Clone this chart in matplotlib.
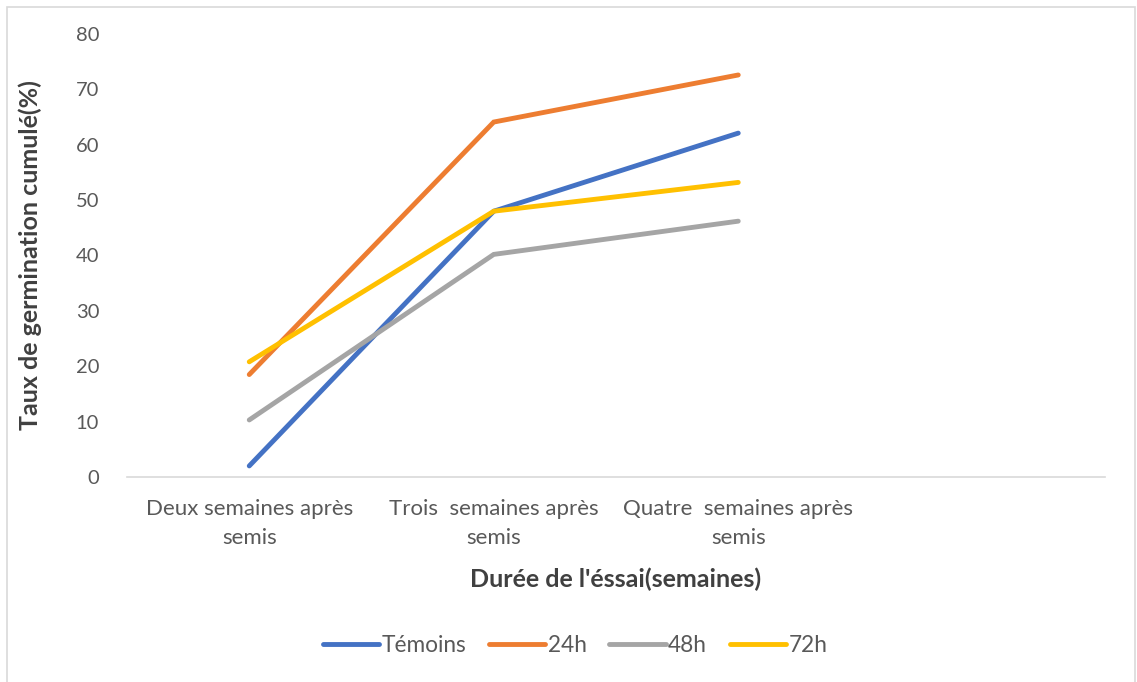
import matplotlib
matplotlib.use("Agg")
import matplotlib.pyplot as plt
from matplotlib.patches import Rectangle

plt.rcParams['font.family'] = ['Lato', 'DejaVu Sans']

categories = ["Deux semaines après\nsemis", "Trois  semaines après\nsemis",
              "Quatre  semaines après\nsemis", ""]
temoins = [2.0, 48.0, 62.1]
h24 = [18.5, 64.1, 72.6]
h48 = [10.3, 40.2, 46.2]
h72 = [20.8, 48.0, 53.2]

series = [("Témoins", temoins, "#4472c4"),
          ("24h", h24, "#ed7d31"),
          ("48h", h48, "#a5a5a5"),
          ("72h", h72, "#ffc000")]

fig = plt.figure(figsize=(11.37, 6.82), dpi=100)
ax = fig.add_axes([127/1137, 1 - 477/682, (1105-127)/1137, (477-34)/682])

x = list(range(len(categories)))
for name, vals, col in series:
    ax.plot(x[:len(vals)], vals, color=col, lw=3.5, solid_capstyle='round',
            solid_joinstyle='miter', label=name)

ax.set_xlim(-0.5, len(categories) - 0.5)
ax.set_ylim(0, 80)
ax.set_yticks(range(0, 81, 10))
ax.set_xticks(x)
ax.set_xticklabels(categories, fontsize=16, color="#595959", linespacing=1.55)
ax.tick_params(axis='y', labelsize=14.5, labelcolor="#595959", length=0, pad=20)
ax.tick_params(axis='x', length=0, pad=16)

for s in ['top', 'right', 'left']:
    ax.spines[s].set_visible(False)
ax.spines['bottom'].set_color("#d9d9d9")
ax.spines['bottom'].set_linewidth(1.2)

ax.set_ylabel("Taux de germination cumulé(%)", fontsize=18, fontweight='bold',
              color="#404040")
ax.yaxis.set_label_coords(-0.087, 0.5)
ax.set_xlabel("Durée de l'éssai(semaines)", fontsize=18, fontweight='bold',
              color="#404040")
ax.xaxis.set_label_coords(0.5, -0.205)

fig.legend(loc='center', bbox_to_anchor=(575/1137, 1 - 645/682), ncol=4,
           frameon=False, fontsize=16.3, handlelength=2.5, handletextpad=0.1,
           columnspacing=1.0, labelcolor="#595959")

fig.patches.append(Rectangle((7/1137, -0.02), 1128/1137, 1 - 7/682 + 0.02,
                             transform=fig.transFigure, fill=False,
                             edgecolor="#d9d9d9", lw=1.2))

fig.savefig("out.png", dpi=100)
